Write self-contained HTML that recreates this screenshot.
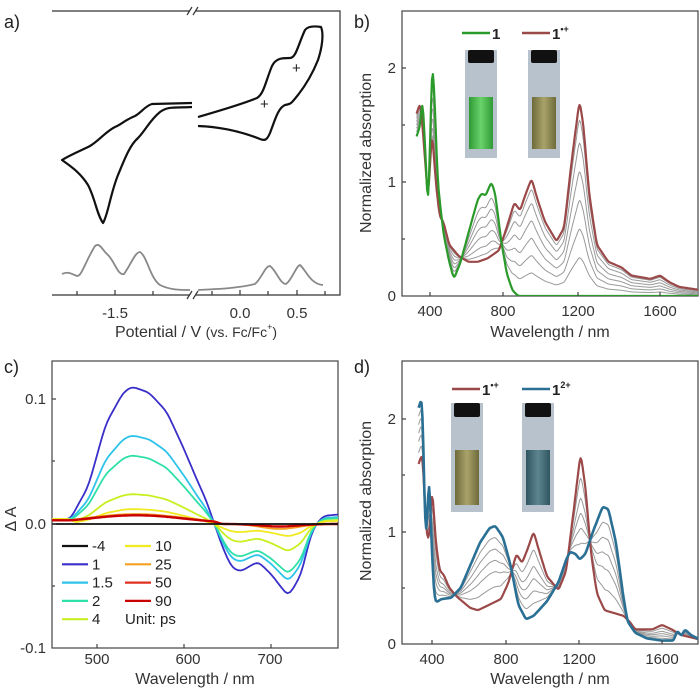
<!DOCTYPE html>
<html><head><meta charset="utf-8"><style>
body{margin:0;background:#fff}
svg{display:block;font-family:"Liberation Sans",Arial,sans-serif}
</style></head><body>
<svg id="s" width="700" height="692" viewBox="0 0 700 692" xmlns="http://www.w3.org/2000/svg">
<defs>
<clipPath id="cb"><rect x="402" y="11" width="296" height="285"/></clipPath>
<clipPath id="cc"><rect x="52" y="361" width="286" height="287"/></clipPath>
<clipPath id="cd"><rect x="402" y="361" width="296" height="283"/></clipPath>
<linearGradient id="gl" x1="0" x2="1"><stop offset="0" stop-color="#2f9a35"/><stop offset=".5" stop-color="#6ad26a"/><stop offset="1" stop-color="#2f9a35"/></linearGradient>
<linearGradient id="ol" x1="0" x2="1"><stop offset="0" stop-color="#6e6a3a"/><stop offset=".5" stop-color="#a9a36a"/><stop offset="1" stop-color="#6e6a3a"/></linearGradient>
<linearGradient id="tl" x1="0" x2="1"><stop offset="0" stop-color="#2f5560"/><stop offset=".5" stop-color="#5d8590"/><stop offset="1" stop-color="#2f5560"/></linearGradient>
</defs>
<g font-size="18" fill="#222">
<text x="4" y="28">a)</text><text x="354" y="28">b)</text><text x="4" y="373">c)</text><text x="354" y="373">d)</text>
</g>
<!-- panel a -->
<g stroke="#333" stroke-width="1.2" fill="none">
<path d="M52,11H190M196,11H340V295H196M190,295H52Z"/>
<path d="M187,15l5,-8M193,15l5,-8M187,299l5,-8M193,299l5,-8"/>
<path d="M77,295v-4M115,295v-5M153,295v-4M212,295v-4M240,295v-5M268,295v-4M297,295v-5M325,295v-4"/>
</g>
<path fill="none" stroke="#111" stroke-width="2.2" stroke-linejoin="round" d="M192,103 L152,104 C145,106 142,112 135,116 C125,120 122,124 115,127 C105,132 100,140 90,146 C80,151 70,155 62,160 C70,166 80,172 88,185 C95,198 97,215 103,223 C108,215 110,195 118,175 C125,158 130,145 138,138 C145,131 150,120 160,112 C168,106 175,108 192,107"/>
<path fill="none" stroke="#111" stroke-width="2.2" stroke-linejoin="round" d="M198,117 C215,112 240,105 257,98 C264,94 266,80 272,66 C276,58 282,58 290,58 C296,58 298,45 305,30 C308,26 315,26 321,27 C324,34 322,48 318,60 C312,75 305,86 298,95 C292,102 292,104 285,105 C278,108 275,120 270,133 C267,140 265,141 260,139 C245,133 225,127 198,126"/>
<text x="292" y="73" font-size="15" fill="#222">+</text><text x="260" y="109" font-size="15" fill="#222">+</text>
<path fill="none" stroke="#888" stroke-width="1.8" d="M62,274 C68,271 72,274 77,276 C82,276 85,262 95,246 C100,242 102,250 108,255 C115,262 118,276 124,274 C130,266 135,252 140,252 C147,256 150,278 160,285 C170,290 180,290 190,290"/>
<path fill="none" stroke="#888" stroke-width="1.8" d="M198,290 C220,289 240,288 255,284 C262,278 265,266 270,266 C276,270 280,284 286,284 C292,280 296,266 300,265 C306,270 310,284 323,285"/>
<g font-size="15" fill="#333" text-anchor="middle">
<text x="115" y="318">-1.5</text><text x="240" y="318">0.0</text><text x="297" y="318">0.5</text>
<text x="196" y="337" font-size="16">Potential / V <tspan font-size="14">(vs. Fc/Fc</tspan><tspan font-size="9" dy="-7">+</tspan><tspan font-size="14" dy="7">)</tspan></text>
</g>
<!-- panel b frame -->
<rect x="402" y="11" width="296" height="285" fill="none" stroke="#444" stroke-width="1.2"/>
<g id="bc" clip-path="url(#cb)"></g>
<g font-size="15" fill="#333" text-anchor="middle">
<text x="430" y="316">400</text><text x="503" y="316">800</text><text x="578" y="316">1200</text><text x="660" y="316">1600</text>
<text x="550" y="337" font-size="16">Wavelength / nm</text>
<text x="396" y="301" text-anchor="end">0</text><text x="396" y="187" text-anchor="end">1</text><text x="396" y="73" text-anchor="end">2</text>
<text transform="translate(371,153) rotate(-90)" font-size="16">Normalized absorption</text>
</g>
<g stroke="#444" stroke-width="1.2"><path d="M430,296v-4M503,296v-4M578,296v-4M660,296v-4M402,182h4M402,68h4M402,239h3M402,125h3"/></g>
<path d="M462,33h28" stroke="#2a9a2a" stroke-width="2.5"/><text x="492" y="39" font-size="15" font-weight="bold" fill="#222">1</text>
<path d="M522,33h28" stroke="#9a4848" stroke-width="2.5"/><text x="552" y="39" font-size="15" font-weight="bold" fill="#222">1<tspan font-size="9" dy="-7">•+</tspan></text>
<g>
<rect x="465" y="50" width="32" height="108" fill="#b8c2cc"/><rect x="468" y="50" width="26" height="13" fill="#111" rx="2"/><rect x="469" y="97" width="24" height="52" fill="url(#gl)"/>
<rect x="528" y="50" width="32" height="108" fill="#b8c2cc"/><rect x="531" y="50" width="26" height="13" fill="#111" rx="2"/><rect x="532" y="97" width="24" height="52" fill="url(#ol)"/>
</g>
<!-- panel c -->
<rect x="52" y="361" width="286" height="287" fill="none" stroke="#444" stroke-width="1.2"/>
<g id="cc2" clip-path="url(#cc)"></g>
<g stroke="#444" stroke-width="1.2"><path d="M97,648v-4M184,648v-4M271,648v-4M52,399h4M52,524h4M52,461h3M52,586h3"/></g>
<g font-size="15" fill="#333">
<text x="46" y="404" text-anchor="end">0.1</text><text x="46" y="529" text-anchor="end">0.0</text><text x="46" y="653" text-anchor="end">-0.1</text>
<g text-anchor="middle"><text x="97" y="664">500</text><text x="188" y="664">600</text><text x="270" y="664">700</text>
<text x="195" y="684" font-size="16">Wavelength / nm</text>
<text transform="translate(16,519) rotate(-90)" font-size="16">Δ A</text></g>
</g>
<g id="leg" font-size="15" fill="#222"></g>
<!-- panel d -->
<rect x="402" y="361" width="296" height="283" fill="none" stroke="#444" stroke-width="1.2"/>
<g id="dc" clip-path="url(#cd)"></g>
<g stroke="#444" stroke-width="1.2"><path d="M432,644v-4M506,644v-4M579,644v-4M662,644v-4M402,532h4M402,419h4M402,588h3M402,475h3"/></g>
<g font-size="15" fill="#333" text-anchor="middle">
<text x="432" y="664">400</text><text x="506" y="664">800</text><text x="579" y="664">1200</text><text x="662" y="664">1600</text>
<text x="550" y="684" font-size="16">Wavelength / nm</text>
<text x="396" y="649" text-anchor="end">0</text><text x="396" y="537" text-anchor="end">1</text><text x="396" y="424" text-anchor="end">2</text>
<text transform="translate(371,501) rotate(-90)" font-size="16">Normalized absorption</text>
</g>
<path d="M452,389h28" stroke="#9a4848" stroke-width="2.5"/><text x="482" y="395" font-size="15" font-weight="bold" fill="#222">1<tspan font-size="9" dy="-7">•+</tspan></text>
<path d="M522,389h28" stroke="#2a6f94" stroke-width="2.5"/><text x="552" y="395" font-size="15" font-weight="bold" fill="#222">1<tspan font-size="9" dy="-7">2+</tspan></text>
<rect x="451" y="403" width="32" height="109" fill="#b8c2cc"/><rect x="454" y="403" width="26" height="14" fill="#111" rx="2"/><rect x="455" y="450" width="24" height="55" fill="url(#ol)"/>
<rect x="522" y="403" width="32" height="109" fill="#b8c2cc"/><rect x="525" y="403" width="26" height="14" fill="#111" rx="2"/><rect x="526" y="450" width="24" height="55" fill="url(#tl)"/>
</svg>
<script>
var NS="http://www.w3.org/2000/svg";
function lin(p,w){if(w<=p[0][0])return p[0][1];for(var i=1;i<p.length;i++){if(w<=p[i][0]){var a=p[i-1],b=p[i];return a[1]+(b[1]-a[1])*(w-a[0])/(b[0]-a[0]);}}return p[p.length-1][1];}
function smooth(a){var r=a.slice();for(var k=0;k<2;k++){var o=r.slice();for(var i=1;i<r.length-1;i++)o[i]=(r[i-1]+2*r[i]+r[i+1])/4;r=o;}return r;}
function path(g,ws,vs,fx,fy,col,sw){var d="";for(var i=0;i<ws.length;i++)d+=(i?"L":"M")+fx(ws[i]).toFixed(1)+","+fy(vs[i]).toFixed(1);var p=document.createElementNS(NS,"path");p.setAttribute("d",d);p.setAttribute("fill","none");p.setAttribute("stroke",col);p.setAttribute("stroke-width",sw);p.setAttribute("stroke-linejoin","round");g.appendChild(p);}
var ws=[];for(var w=330;w<=1820;w+=5)ws.push(w);
// panel b
var G=[[330,1.4],[350,1.5],[360,1.78],[375,1.3],[390,0.7],[400,1.3],[410,2.07],[420,1.9],[440,1.0],[470,0.55],[500,0.3],[525,0.15],[560,0.3],[600,0.55],[650,0.85],[670,0.9],[690,0.88],[720,1.0],[740,0.9],[770,0.5],[800,0.2],[830,0.05],[860,0],[1820,0]];
var R=[[330,1.6],[350,1.7],[370,1.3],[390,0.83],[410,1.47],[430,1.0],[450,0.7],[470,0.65],[500,0.45],[550,0.35],[600,0.3],[650,0.3],[700,0.33],[760,0.4],[800,0.6],[840,0.82],[870,0.75],[900,0.9],[930,1.03],[960,0.85],[1000,0.65],[1060,0.48],[1100,0.6],[1140,1.2],[1180,1.72],[1200,1.5],[1230,0.9],[1270,0.45],[1330,0.3],[1400,0.25],[1450,0.18],[1550,0.15],[1600,0.18],[1650,0.12],[1700,0.08],[1820,0.05]];
var bx=function(w){return 430+(w-400)*0.1917},by=function(a){return 296-114*a};
var bg=document.getElementById("bc");
var gv=ws.map(function(w){return lin(G,w)}),rv=ws.map(function(w){return lin(R,w)});
[0.2,0.35,0.5,0.65,0.8,0.92].forEach(function(f){path(bg,ws,smooth(ws.map(function(w,i){return gv[i]*(1-f)+rv[i]*f})),bx,by,"#999",1)});
path(bg,ws,smooth(rv),bx,by,"#9a4848",2.2);path(bg,ws,smooth(gv),bx,by,"#2a9a2a",2.2);
// panel d
var B=[[330,2.1],[350,2.2],[360,1.3],[370,0.85],[385,1.6],[395,1.0],[410,0.45],[420,0.37],[450,0.4],[500,0.41],[550,0.5],[600,0.7],[650,0.9],[700,1.03],[730,1.05],[770,0.95],[810,0.7],[850,0.35],[890,0.22],[930,0.25],[1000,0.38],[1060,0.55],[1100,0.75],[1120,0.82],[1150,0.8],[1170,0.75],[1200,0.8],[1240,1.0],[1290,1.22],[1320,1.2],[1360,0.9],[1400,0.4],[1420,0.2],[1460,0.1],[1520,0.05],[1600,0.03],[1660,0.03],[1680,0.12],[1700,0.07],[1720,0.13],[1750,0.08],[1820,0.02]];
var R2=[[330,1.6],[350,1.7],[370,1.0],[385,0.9],[400,1.42],[420,0.9],[440,0.65],[460,0.62],[490,0.5],[530,0.42],[600,0.32],[640,0.3],[700,0.35],[760,0.4],[800,0.55],[840,0.8],[870,0.72],[900,0.85],[930,1.0],[960,0.82],[1000,0.6],[1060,0.48],[1100,0.65],[1140,1.2],[1175,1.7],[1200,1.4],[1230,0.8],[1260,0.45],[1300,0.3],[1400,0.25],[1430,0.2],[1460,0.13],[1550,0.13],[1600,0.17],[1650,0.13],[1700,0.08],[1820,0.03]];
var dx=function(w){return 432+(w-400)*0.1917},dy=function(a){return 644-112.5*a};
var dg=document.getElementById("dc");
var b2=ws.map(function(w){return lin(B,w)}),r2=ws.map(function(w){return lin(R2,w)});
[0.2,0.4,0.55,0.7,0.85].forEach(function(f){path(dg,ws,smooth(ws.map(function(w,i){return r2[i]*(1-f)+b2[i]*f})),dx,dy,"#999",1)});
path(dg,ws,smooth(r2),dx,dy,"#9a4848",2.2);path(dg,ws,smooth(b2),dx,dy,"#2a6f94",2.6);
// panel c
var BL=[[440,0.004],[470,0.005],[490,0.03],[510,0.08],[530,0.105],[540,0.11],[560,0.105],[580,0.09],[600,0.06],[615,0.035],[625,0.02],[635,0],[645,-0.02],[655,-0.035],[665,-0.038],[685,-0.03],[700,-0.04],[720,-0.058],[735,-0.04],[745,-0.01],[752,0],[760,0.005],[780,0.006]];
var cw=[];for(var w=440;w<=780;w+=3)cw.push(w);
var base=cw.map(function(w){return lin(BL,w)});
var cx=function(w){return 97+(w-500)*0.87},cy=function(a){return 524-1250*a};
var cg=document.getElementById("cc2");
var S=[["#111",0,0,"-4"],["#3a2fc8",0.11,0.058,"1"],["#2ec4ea",0.071,0.046,"1.5"],["#2fe0a8",0.055,0.04,"2"],["#c8f020",0.024,0.022,"4"],["#f0ea20",0.012,0.01,"10"],["#f5a020",0.008,0.004,"25"],["#e03020",0.007,0.002,"50"],["#c80000",0.007,0.002,"90"]];
var order=[8,7,6,5,4,3,2,1,0];
[1,2,3,4,5,6,7,8,0].forEach(function(k){var s=S[k];var v=cw.map(function(w,i){var b=base[i];if(k==0)return 0;if(w<640&&w>470)return b*s[1]/0.11;if(w<=470)return 0.004;if(w>=752)return b*(s[1]/0.11+0.3);return b*s[2]/0.058;});
 if(k>=6){v=cw.map(function(w){return w<470?0.003:(w<640?s[1]*Math.exp(-Math.pow((w-545)/80,2)):-s[2]*Math.exp(-Math.pow((w-710)/30,2)))})}
 path(cg,cw,smooth(v),cx,cy,s[0],k==8?2.4:1.8)});
var lg=document.getElementById("leg");
function li(x,y,c,t){var p=document.createElementNS(NS,"path");p.setAttribute("d","M"+x+","+y+"h26");p.setAttribute("stroke",c);p.setAttribute("stroke-width",2.2);lg.appendChild(p);var tx=document.createElementNS(NS,"text");tx.setAttribute("x",x+30);tx.setAttribute("y",y+5);tx.textContent=t;lg.appendChild(tx);}
for(var i=0;i<5;i++)li(62,546+i*18.3,S[i][0],S[i][3]);
for(var i=5;i<9;i++)li(125,546+(i-5)*18.3,S[i][0],S[i][3]);
var t=document.createElementNS(NS,"text");t.setAttribute("x",125);t.setAttribute("y",624);t.textContent="Unit: ps";lg.appendChild(t);
</script>
</body></html>
